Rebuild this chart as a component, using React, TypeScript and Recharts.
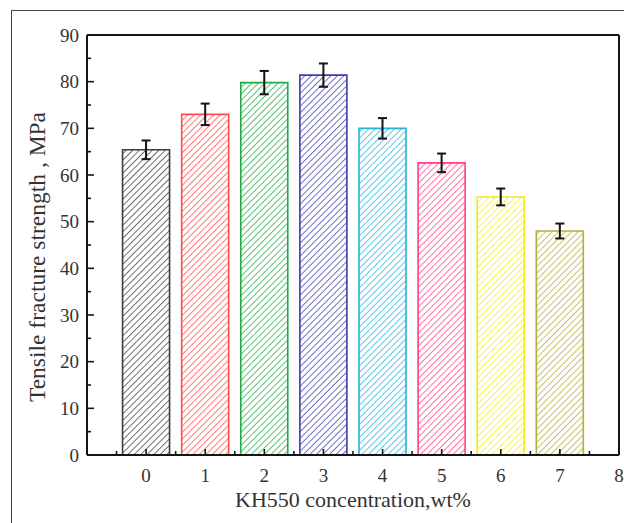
import { BarChart, Bar, Cell, XAxis, YAxis, ErrorBar, ReferenceLine, Label } from "recharts";

const concentrations = [0, 1, 2, 3, 4, 5, 6, 7];
const strength = [65.4, 73.0, 79.8, 81.4, 70.0, 62.6, 55.3, 48.0];
const errors = [2.0, 2.3, 2.5, 2.5, 2.2, 2.0, 1.8, 1.6];
const barColors = ["#3c3c3c", "#ff4b4b", "#22aa48", "#3d3da8", "#22b5d5", "#ff3f8a", "#efea1e", "#b2ad3c"];
const yTicks = [0, 5, 10, 15, 20, 25, 30, 35, 40, 45, 50, 55, 60, 65, 70, 75, 80, 85, 90];
const xTicks = [-0.5, 0, 0.5, 1, 1.5, 2, 2.5, 3, 3.5, 4, 4.5, 5, 5.5, 6, 6.5, 7, 7.5, 8];

const data = concentrations.map((c, i) => ({ x: c, strength: strength[i], err: errors[i] }));

const FONT = "Liberation Serif, Times New Roman, serif";
const INK = "#141414";

function YTick(props: any) {
  const { x, y, payload } = props;
  const major = payload.value % 10 === 0;
  const ax = x + 8;
  return (
    <g>
      <line x1={ax} x2={ax + (major ? 7 : 4)} y1={y} y2={y} stroke={INK} strokeWidth={1.6} />
      {major && (
        <text x={x} y={y} dy="0.35em" textAnchor="end" style={{ fontFamily: FONT, fontSize: 19 }} fill="#333">
          {payload.value}
        </text>
      )}
    </g>
  );
}

function XTick(props: any) {
  const { x, y, payload } = props;
  const major = Number.isInteger(payload.value);
  const ay = y - 27;
  return (
    <g>
      <line x1={x} x2={x} y1={ay} y2={ay - (major ? 6 : 4)} stroke={INK} strokeWidth={1.6} />
      {major && (
        <text x={x} y={y} textAnchor="middle" style={{ fontFamily: FONT, fontSize: 19 }} fill="#333">
          {payload.value}
        </text>
      )}
    </g>
  );
}

export default function App() {
  return (
    <div style={{ position: "absolute", left: 0, top: 0, width: 624, height: 523, background: "#fff", overflow: "hidden" }}>
      <div
        style={{
          position: "absolute",
          left: 11,
          top: 10,
          width: 620,
          height: 520,
          borderTop: "1.5px solid #444",
          borderLeft: "1.5px solid #444",
        }}
      />
      <BarChart
        width={624}
        height={523}
        data={data}
        margin={{ top: 35, right: 5, left: 0, bottom: 0 }}
        style={{ position: "absolute", left: 0, top: 0 }}
      >
        <defs>
          {barColors.map((c, i) => (
            <pattern
              key={i}
              id={`hatch${i}`}
              patternUnits="userSpaceOnUse"
              width={4.6}
              height={4.6}
              patternTransform="rotate(45)"
            >
              <rect width={4.6} height={4.6} fill="#fff" />
              <line x1={2.3} y1={0} x2={2.3} y2={4.6} stroke={c} strokeWidth={1} opacity={0.75} />
            </pattern>
          ))}
        </defs>
        <XAxis
          type="number"
          dataKey="x"
          domain={[-1, 8]}
          ticks={xTicks}
          interval={0}
          height={68}
          tickSize={0}
          tickMargin={27}
          tickLine={false}
          axisLine={{ stroke: INK, strokeWidth: 2 }}
          tick={<XTick />}
        >
          <Label
            value="KH550 concentration,wt%"
            position="insideBottom"
            offset={16}
            style={{ fontFamily: FONT, fontSize: 22, fill: "#333" }}
          />
        </XAxis>
        <YAxis
          type="number"
          domain={[0, 90]}
          ticks={yTicks}
          interval={0}
          width={87}
          tickSize={0}
          tickMargin={8}
          tickLine={false}
          axisLine={{ stroke: INK, strokeWidth: 2 }}
          tick={<YTick />}
        >
          <Label
            content={(p: any) => {
              const vb = p.viewBox;
              const cx = vb.x + 37;
              const cy = vb.y + vb.height / 2 + 12;
              return (
                <text
                  x={cx}
                  y={cy}
                  transform={`rotate(-90 ${cx} ${cy})`}
                  textAnchor="middle"
                  dominantBaseline="central"
                  style={{ fontFamily: FONT, fontSize: 23.5 }}
                  fill="#333"
                >
                  Tensile fracture strength , MPa
                </text>
              );
            }}
          />
        </YAxis>
        <ReferenceLine y={90} stroke={INK} strokeWidth={2} />
        <ReferenceLine x={8} stroke={INK} strokeWidth={2} />
        <Bar dataKey="strength" barSize={47} isAnimationActive={false}>
          {data.map((_, i) => (
            <Cell key={i} fill={`url(#hatch${i})`} stroke={barColors[i]} strokeWidth={1.6} />
          ))}
          <ErrorBar dataKey="err" direction="y" width={4.5} strokeWidth={2} stroke={INK} isAnimationActive={false} />
        </Bar>
      </BarChart>
    </div>
  );
}
